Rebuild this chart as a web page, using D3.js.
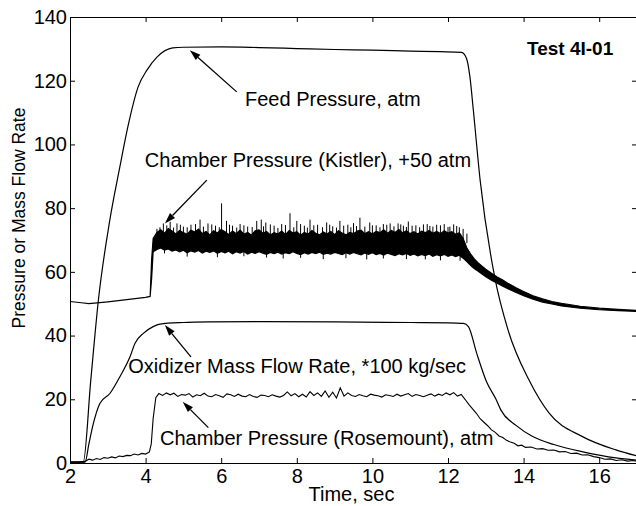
<!DOCTYPE html>
<html>
<head>
<meta charset="utf-8">
<script src="https://cdn.jsdelivr.net/npm/d3@7"></script>
<style>
  html, body { margin: 0; padding: 0; background: #fff; }
  svg { display: block; }
  text { font-family: "Liberation Sans", Arial, sans-serif; fill: #000; }
</style>
</head>
<body>
<svg id="chart" width="636" height="506"></svg>
<script>
// axis ticks
const xTicks = [2, 4, 6, 8, 10, 12, 14, 16];
const yTicks = [0, 20, 40, 60, 80, 100, 120, 140];

// feed pressure, atm
const feedTime  = [2.0, 2.35, 2.55, 2.75, 3.05, 3.32, 3.53, 3.8, 4.04, 4.3, 4.72, 5.0, 6.0, 7.0, 8.0, 9.0, 10.0, 11.0, 11.8, 12.36, 12.49, 12.58, 12.67, 12.85, 13.24, 13.59, 14.14, 14.67, 15.57, 16.44, 17.0];
const feedValue = [0.3, 0.3, 26, 51, 76, 93, 105.5, 118, 123.4, 127.4, 130.3, 130.5, 130.6, 130.4, 130.1, 129.8, 129.6, 129.3, 129.1, 128.9, 127.0, 121.2, 110.8, 88.8, 58.1, 41.7, 26.1, 15.7, 8.2, 4.1, 2.2];

// oxidizer mass flow rate, *100 kg/sec
const oxTime  = [2.0, 2.4, 2.5, 2.62, 2.79, 3.06, 3.32, 3.59, 3.72, 3.94, 4.2, 4.38, 5.0, 5.7, 7.0, 9.0, 11.0, 12.0, 12.41, 12.54, 12.76, 13.02, 13.27, 13.4, 13.8, 14.24, 14.8, 15.57, 16.44, 17.0];
const oxValue = [0.3, 0.3, 6, 12.5, 18.7, 21.9, 27.1, 33.4, 37.6, 40.7, 42.8, 43.6, 44.1, 44.3, 44.4, 44.3, 44.1, 44.0, 43.8, 42.8, 34.4, 25.5, 20.0, 16.6, 11.8, 8.3, 5.8, 3.5, 1.6, 0.9];

// chamber pressure (Rosemount), atm
const rmTime = [2.0, 2.2, 2.4, 2.5, 2.6, 2.7, 2.8, 2.9, 3.0, 3.1, 3.2, 3.3, 3.4, 3.5, 3.6, 3.7, 3.8, 3.9, 4.0, 4.1, 4.15, 4.2, 4.27,
  4.35, 4.45, 4.55, 4.65, 4.75, 4.85, 4.95, 5.05, 5.15, 5.25, 5.35, 5.45, 5.55, 5.65, 5.75, 5.85, 5.95,
  6.05, 6.15, 6.25, 6.35, 6.45, 6.55, 6.65, 6.75, 6.85, 6.95, 7.05, 7.15, 7.25, 7.35, 7.45, 7.55, 7.65, 7.75, 7.85, 7.95,
  8.05, 8.15, 8.25, 8.35, 8.45, 8.55, 8.65, 8.75, 8.85, 8.95, 9.05, 9.15, 9.25, 9.35, 9.45, 9.55, 9.65, 9.75, 9.85, 9.95,
  10.05, 10.15, 10.25, 10.35, 10.45, 10.55, 10.65, 10.75, 10.85, 10.95, 11.05, 11.15, 11.25, 11.35, 11.45, 11.55, 11.65, 11.75, 11.85, 11.95,
  12.05, 12.15, 12.25, 12.35, 12.45, 12.55, 12.65, 12.75, 12.85, 12.95, 13.05, 13.15, 13.25, 13.35, 13.45, 13.55, 13.65, 13.75, 13.85, 13.95,
  14.05, 14.2, 14.35, 14.5, 14.65, 14.8, 14.95, 15.1, 15.25, 15.4, 15.55, 15.7, 15.85, 16.0, 16.15, 16.3, 16.45, 16.6, 16.75, 16.9, 17.0];
const rmValue = [0.3, 0.3, 0.5, 1.2, 0.9, 1.4, 1.1, 1.7, 1.5, 1.9, 1.6, 2.2, 2.0, 2.4, 2.3, 2.8, 2.5, 3.0, 2.8, 3.5, 6, 14, 20.5,
  21.8, 21.2, 22.0, 21.4, 21.9, 20.9, 21.5, 21.3, 21.8, 20.7, 21.4, 21.1, 21.9, 21.0, 20.8, 21.5, 21.1,
  20.6, 21.7, 21.4, 20.9, 21.6, 21.0, 20.8, 21.5, 20.9, 20.6, 21.3, 21.2, 20.8, 21.4, 21.0, 20.7, 21.2, 22.3, 21.1, 21.8,
  20.8, 21.6, 20.7, 22.4, 21.2, 22.0, 20.9, 22.6, 20.6, 22.2, 20.4, 23.6, 21.0, 22.0, 21.2, 20.9, 21.5, 21.1, 20.8, 21.6,
  21.3, 21.1, 20.7, 21.4, 21.2, 20.9, 21.6, 21.0, 21.4, 21.8, 20.9, 21.5, 21.2, 20.8, 21.3, 21.7, 21.0, 21.6, 21.2, 22.0,
  21.4, 22.1, 21.0, 21.5, 20.0, 18.4, 17.0, 15.6, 13.9, 12.8, 11.7, 10.4, 9.6, 8.5, 8.0, 7.1, 6.6, 6.2, 5.4, 5.6,
  4.9, 5.0, 4.4, 4.5, 4.0, 4.1, 3.5, 3.6, 3.0, 3.1, 2.5, 2.6, 2.0, 1.7, 1.2, 1.3, 0.8, 1.0, 0.6, 0.8, 0.5];

// chamber pressure (Kistler), +50 atm: envelope of the noisy band
const kistlerTime = [2.0, 2.3, 2.5, 3.0, 3.5, 4.0, 4.12, 4.16, 4.2,
  4.3, 4.4, 4.5, 4.6, 4.7, 4.8, 4.9, 5.0, 5.1, 5.2, 5.3, 5.4, 5.5, 5.6, 5.7, 5.8, 5.9,
  6.0, 6.1, 6.2, 6.3, 6.4, 6.5, 6.6, 6.7, 6.8, 6.9, 7.0, 7.1, 7.2, 7.3, 7.4, 7.5, 7.6, 7.7, 7.8, 7.9,
  8.0, 8.1, 8.2, 8.3, 8.4, 8.5, 8.6, 8.7, 8.8, 8.9, 9.0, 9.1, 9.2, 9.3, 9.4, 9.5, 9.6, 9.7, 9.8, 9.9,
  10.0, 10.1, 10.2, 10.3, 10.4, 10.5, 10.6, 10.7, 10.8, 10.9, 11.0, 11.1, 11.2, 11.3, 11.4, 11.5, 11.6, 11.7, 11.8, 11.9,
  12.0, 12.1, 12.2, 12.3, 12.4, 12.5, 12.6, 12.7, 12.8, 12.9, 13.0, 13.15, 13.3, 13.45, 13.6, 13.8, 14.0, 14.25, 14.5, 14.75,
  15.0, 15.5, 16.0, 16.5, 17.0];
const kistlerLow = [50.7, 50.3, 50.0, 50.6, 51.3, 52.0, 52.3, 58, 66.3,
  67.0, 67.5, 66.8, 67.2, 66.5, 66.9, 66.3, 66.8, 66.0, 66.6, 66.2, 66.7, 65.9, 66.5, 66.1, 66.6, 65.8,
  66.4, 66.0, 66.5, 65.7, 66.3, 65.9, 66.4, 65.6, 66.2, 65.8, 66.3, 65.9, 65.5, 66.1, 65.7, 66.2, 65.6, 66.0, 65.7, 66.3,
  65.8, 65.4, 66.0, 65.6, 66.1, 65.7, 66.2, 65.5, 65.9, 65.6, 66.1, 65.8, 65.4, 66.0, 65.6, 66.1, 65.7, 65.3, 65.9, 65.5,
  66.0, 65.4, 65.8, 65.3, 65.9, 65.5, 65.1, 65.7, 65.3, 65.8, 65.2, 65.6, 65.0, 65.5, 65.1, 65.6, 64.9, 65.4, 65.0, 65.5,
  64.9, 65.3, 64.8, 65.2, 64.3, 63.2, 62.0, 61.0, 60.2, 59.3, 58.5, 57.4, 56.4, 55.5, 54.6, 53.5, 52.5, 51.4, 50.5, 49.9,
  49.3, 48.6, 48.1, 47.8, 47.6];
const kistlerHigh = [50.7, 50.3, 50.0, 50.6, 51.3, 52.0, 52.3, 64, 70.5,
  72.4, 73.2, 72.1, 73.6, 72.8, 71.9, 73.0, 72.3, 71.8, 73.1, 72.5, 73.4, 72.0, 72.7, 71.6, 72.9, 72.2,
  73.3, 72.6, 71.7, 72.8, 72.0, 73.1, 71.8, 72.4, 71.5, 72.9, 73.2, 72.1, 72.7, 71.6, 72.3, 71.9, 72.8, 71.7, 73.0, 72.2,
  72.6, 71.5, 72.4, 71.8, 73.0, 72.1, 71.6, 72.5, 71.9, 72.7, 71.7, 72.9, 72.2, 71.6, 72.4, 72.0, 72.8, 73.1, 72.0, 72.6,
  71.9, 72.7, 72.3, 73.2, 72.1, 73.0, 72.4, 73.3, 72.2, 72.9, 72.0, 72.6, 71.9, 72.8, 72.3, 73.0, 72.1, 72.7, 72.0, 72.9,
  72.2, 72.6, 71.8, 72.3, 70.5, 67.5, 65.6, 64.0, 62.8, 61.8, 60.8, 59.6, 58.4, 57.4, 56.3, 55.0, 53.8, 52.5, 51.5, 50.7,
  50.1, 49.2, 48.6, 48.2, 47.9];
// single noise spikes sticking out of the band
const spikeTime = [4.3, 4.47, 4.65, 4.83, 5.0, 5.2, 5.44, 5.65, 5.85, 6.01, 6.14, 6.3, 6.5, 6.7, 6.94, 7.06, 7.18, 7.4, 7.6, 7.82, 8.0, 8.2, 8.35, 8.55, 8.79, 8.95, 9.14, 9.35, 9.5, 9.67, 9.93, 10.1, 10.29, 10.47, 10.68, 10.82, 10.95, 11.15, 11.35, 11.52, 11.7, 11.9, 12.05, 12.23, 12.4, 12.5,
  4.38, 4.56, 4.74, 4.92, 5.1, 5.32, 5.53, 5.75, 5.95, 6.22, 6.41, 6.6, 6.82, 7.12, 7.3, 7.5, 7.7, 7.92, 8.1, 8.28, 8.45, 8.68, 8.87, 9.05, 9.24, 9.43, 9.58, 9.8, 10.0, 10.2, 10.38, 10.57, 10.75, 10.9, 11.05, 11.25, 11.45, 11.6, 11.8, 12.0, 12.15, 12.3];
const spikeTop  = [73.5, 75.2, 75.7, 75.2, 74.2, 74.8, 76.4, 75.2, 74.5, 81.5, 76.0, 74.5, 75.0, 74.2, 76.0, 76.4, 75.5, 74.5, 75.0, 78.4, 76.0, 74.5, 76.4, 74.8, 75.5, 74.3, 76.0, 74.8, 75.3, 77.0, 75.5, 74.6, 75.0, 75.2, 75.2, 74.5, 75.8, 74.6, 74.9, 74.4, 74.8, 75.0, 74.2, 74.4, 73.5, 72.0,
  74.0, 74.6, 73.9, 74.8, 74.0, 75.0, 74.2, 74.9, 74.0, 74.8, 73.9, 74.6, 74.1, 74.3, 74.9, 73.8, 74.7, 74.0, 75.0, 73.9, 74.6, 74.0, 74.8, 73.9, 74.5, 74.0, 74.4, 74.2, 74.6, 74.0, 74.8, 74.3, 74.9, 74.1, 74.5, 74.0, 75.0, 74.2, 74.6, 74.1, 74.9, 74.0];
const dipTime   = [4.5, 5.1, 5.9, 6.6, 7.2, 7.64, 8.1, 8.7, 9.3, 9.85, 10.29, 10.9, 11.4, 11.8, 12.32];
const dipBottom = [65.8, 64.8, 64.6, 64.9, 64.5, 64.2, 64.4, 64.0, 64.3, 63.9, 64.2, 64.0, 63.9, 63.6, 63.5];

// labels
const annotations = [
  { text: "Feed Pressure, atm", tx: 6.63, ty: 112.0, tail: [6.41, 116.5], tip: [5.17, 129.6] },
  { text: "Chamber Pressure (Kistler), +50 atm", tx: 3.98, ty: 92.9, tail: [5.62, 88.8], tip: [4.51, 75.2] },
  { text: "Oxidizer Mass Flow Rate, *100 kg/sec", tx: 3.54, ty: 28.2, tail: [5.2, 33.3], tip: [4.51, 43.3] },
  { text: "Chamber Pressure (Rosemount), atm", tx: 4.38, ty: 5.5, tail: [5.66, 11.1], tip: [4.98, 19.2] }
];

const svg = d3.select("#chart");
const plotLeft = 70, plotRight = 637, plotTop = 17, plotBottom = 463;

const x = d3.scaleLinear().domain([2, 17]).range([plotLeft, plotRight]);
const y = d3.scaleLinear().domain([0, 140]).range([plotBottom, plotTop]);

svg.append("defs").append("clipPath").attr("id", "plot-clip")
  .append("rect").attr("x", plotLeft).attr("y", plotTop)
  .attr("width", plotRight - plotLeft).attr("height", plotBottom - plotTop);

const plot = svg.append("g").attr("clip-path", "url(#plot-clip)");

const line = d3.line().x(d => x(d[0])).y(d => y(d[1]));
const smooth = d3.line().x(d => x(d[0])).y(d => y(d[1])).curve(d3.curveMonotoneX);

// Kistler band
const band = d3.zip(kistlerTime, kistlerLow, kistlerHigh);
plot.append("path")
  .attr("d", d3.area().x(d => x(d[0])).y0(d => y(d[1])).y1(d => y(d[2]))(band))
  .attr("fill", "#000").attr("stroke", "#000").attr("stroke-width", 1.2);

plot.selectAll("line.spike").data(d3.zip(spikeTime, spikeTop)).join("line")
  .attr("class", "spike")
  .attr("x1", d => x(d[0])).attr("x2", d => x(d[0]))
  .attr("y1", y(69)).attr("y2", d => y(d[1]))
  .attr("stroke", "#000").attr("stroke-width", 1);

plot.selectAll("line.dip").data(d3.zip(dipTime, dipBottom)).join("line")
  .attr("class", "dip")
  .attr("x1", d => x(d[0])).attr("x2", d => x(d[0]))
  .attr("y1", y(67)).attr("y2", d => y(d[1]))
  .attr("stroke", "#000").attr("stroke-width", 1);

// other series
plot.append("path").attr("d", smooth(d3.zip(feedTime, feedValue)))
  .attr("fill", "none").attr("stroke", "#000").attr("stroke-width", 1.2);
plot.append("path").attr("d", smooth(d3.zip(oxTime, oxValue)))
  .attr("fill", "none").attr("stroke", "#000").attr("stroke-width", 1.2);
plot.append("path").attr("d", line(d3.zip(rmTime, rmValue)))
  .attr("fill", "none").attr("stroke", "#000").attr("stroke-width", 1.1);

// axes, ticks pointing inwards
function styleAxis(g) {
  g.attr("font-size", 20).attr("font-family", "'Liberation Sans', Arial, sans-serif");
  g.selectAll("path, line").attr("stroke", "#000");
  g.selectAll("text").attr("fill", "#000");
}

svg.append("g").attr("transform", `translate(0,${plotBottom})`)
  .call(d3.axisBottom(x).tickValues(xTicks).tickFormat(d3.format("d")).tickSize(-5).tickSizeOuter(0).tickPadding(6))
  .call(styleAxis);
svg.append("g").attr("transform", `translate(0,${plotTop})`)
  .call(d3.axisTop(x).tickValues(xTicks).tickFormat("").tickSize(-5).tickSizeOuter(0))
  .call(styleAxis);
svg.append("g").attr("transform", `translate(${plotLeft},0)`)
  .call(d3.axisLeft(y).tickValues(yTicks).tickFormat(d3.format("d")).tickSize(-5).tickSizeOuter(0).tickPadding(3))
  .call(styleAxis);
svg.append("g").attr("transform", `translate(${plotRight},0)`)
  .call(d3.axisRight(y).tickValues(yTicks).tickFormat("").tickSize(-5).tickSizeOuter(0))
  .call(styleAxis);

// axis titles
svg.append("text")
  .attr("x", (plotLeft + plotRight) / 2 - 2).attr("y", 501)
  .attr("text-anchor", "middle").attr("font-size", 20)
  .text("Time, sec");

svg.append("text")
  .attr("transform", "translate(25,218) rotate(-90)")
  .attr("text-anchor", "middle").attr("font-size", 17.5)
  .text("Pressure or Mass Flow Rate");

svg.append("text")
  .attr("x", x(14.09)).attr("y", y(128.1))
  .attr("font-size", 19).attr("font-weight", "bold")
  .text("Test 4I-01");

// annotations with arrows
const ann = svg.append("g");
annotations.forEach(a => {
  const x0 = x(a.tail[0]), y0 = y(a.tail[1]);
  const x1 = x(a.tip[0]), y1 = y(a.tip[1]);
  const ang = Math.atan2(y1 - y0, x1 - x0);
  const len = 11, half = 3.5;
  const bx = x1 - len * Math.cos(ang), by = y1 - len * Math.sin(ang);
  ann.append("line")
    .attr("x1", x0).attr("y1", y0).attr("x2", bx).attr("y2", by)
    .attr("stroke", "#000").attr("stroke-width", 1.3);
  ann.append("path")
    .attr("d", `M${x1},${y1}L${bx - half * Math.sin(ang)},${by + half * Math.cos(ang)}L${bx + half * Math.sin(ang)},${by - half * Math.cos(ang)}Z`)
    .attr("fill", "#000");
  ann.append("text")
    .attr("x", x(a.tx)).attr("y", y(a.ty))
    .attr("font-size", 20)
    .text(a.text);
});
</script>
</body>
</html>
